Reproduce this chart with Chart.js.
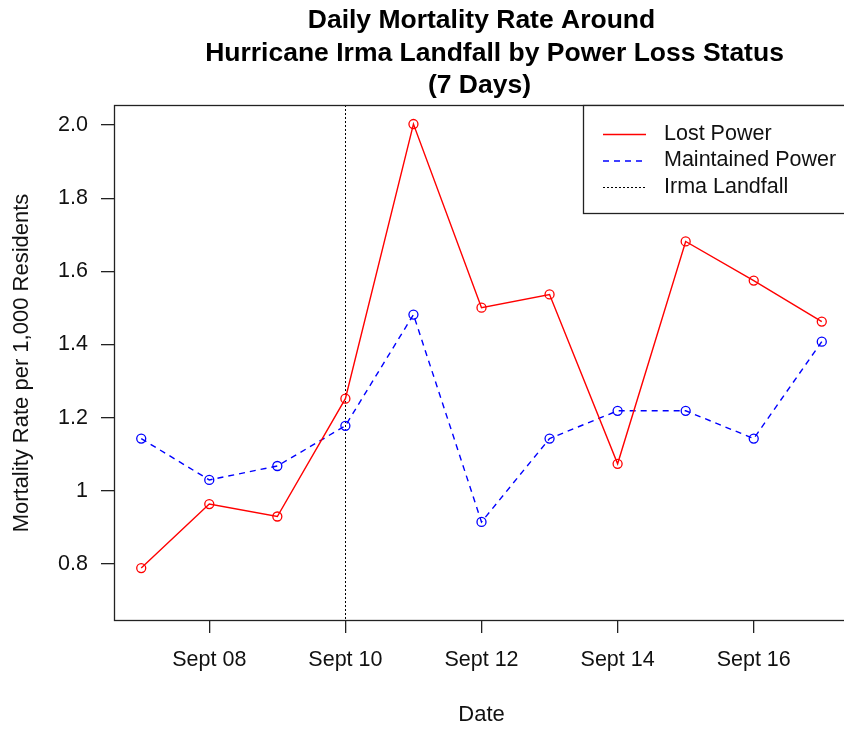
<!DOCTYPE html>
<html>
<head>
<meta charset="utf-8">
<script src="https://cdn.jsdelivr.net/npm/chart.js@4.4.0/dist/chart.umd.min.js"></script>
<style>
html, body { margin: 0; padding: 0; background: #fff; overflow: hidden; }
canvas { display: block; }
</style>
</head>
<body>
<canvas id="chart" width="870" height="732"></canvas>
<script>
// data
const days = [7, 8, 9, 10, 11, 12, 13, 14, 15, 16, 17];
const lostPower = [0.789, 0.964, 0.930, 1.252, 2.003, 1.501, 1.537, 1.074, 1.682, 1.575, 1.463];
const maintainedPower = [1.143, 1.030, 1.068, 1.178, 1.482, 0.915, 1.143, 1.219, 1.219, 1.143, 1.408];
const dateTicks = [8, 10, 12, 14, 16];
const dateLabels = ['Sept 08', 'Sept 10', 'Sept 12', 'Sept 14', 'Sept 16'];
const rateTicks = [0.8, 1, 1.2, 1.4, 1.6, 1.8, 2.0];
const rateLabels = ['0.8', '1', '1.2', '1.4', '1.6', '1.8', '2.0'];
const landfallDay = 10;
const titleLines = ['Daily Mortality Rate Around', 'Hurricane Irma Landfall by Power Loss Status', '(7 Days)'];

const FONT = '"Liberation Sans", Arial, sans-serif';

function pts(ys) {
  return ys.map((y, i) => ({ x: days[i], y: y }));
}

// R style extras: box, title, axis titles, landfall line, legend
const rPlot = {
  id: 'rPlot',
  beforeDatasetsDraw(chart) {
    const ctx = chart.ctx, a = chart.chartArea, xs = chart.scales.x;
    const lx = Math.round(xs.getPixelForValue(landfallDay)) + 0.5;
    ctx.save();
    ctx.strokeStyle = '#000';
    ctx.lineWidth = 1;
    ctx.setLineDash([2, 2]);
    ctx.beginPath();
    ctx.moveTo(lx, a.top);
    ctx.lineTo(lx, a.bottom);
    ctx.stroke();
    ctx.restore();
  },
  afterDraw(chart) {
    const ctx = chart.ctx, a = chart.chartArea;
    ctx.save();
    // box
    ctx.strokeStyle = '#222';
    ctx.lineWidth = 1.3;
    ctx.strokeRect(Math.round(a.left) + 0.5, Math.round(a.top) + 0.5, a.right - a.left, a.bottom - a.top);

    // title (second line sits a little right in the original)
    ctx.fillStyle = '#000';
    ctx.font = 'bold 26.5px ' + FONT;
    ctx.textAlign = 'center';
    ctx.textBaseline = 'middle';
    const cx = (a.left + a.right) / 2;
    const shift = [0, 13, -2];
    titleLines.forEach((t, i) => ctx.fillText(t, cx + shift[i], 21 + i * 32.5));

    // axis titles
    ctx.fillStyle = '#111';
    ctx.font = '22px ' + FONT;
    ctx.fillText('Date', cx, 715);
    ctx.save();
    ctx.translate(22, 363);
    ctx.rotate(-Math.PI / 2);
    ctx.fillText('Mortality Rate per 1,000 Residents', 0, 0);
    ctx.restore();

    // legend
    const bx = 583.5, by = Math.round(a.top) + 0.5;
    ctx.fillStyle = '#fff';
    ctx.fillRect(bx, by, a.right - bx, 108);
    ctx.strokeStyle = '#222';
    ctx.lineWidth = 1.3;
    ctx.strokeRect(bx, by, a.right - bx, 108);
    const items = [
      { text: 'Lost Power', color: '#ff0000', dash: [] },
      { text: 'Maintained Power', color: '#0000ff', dash: [6, 5] },
      { text: 'Irma Landfall', color: '#000', dash: [2, 2] }
    ];
    ctx.font = '21.5px ' + FONT;
    ctx.textAlign = 'left';
    items.forEach((it, i) => {
      const y = 134 + i * 26.5;
      ctx.strokeStyle = it.color;
      ctx.lineWidth = it.color === '#000' ? 1 : 1.4;
      ctx.setLineDash(it.dash);
      ctx.beginPath();
      ctx.moveTo(603, y + 0.5);
      ctx.lineTo(646, y + 0.5);
      ctx.stroke();
      ctx.setLineDash([]);
      ctx.fillStyle = '#111';
      ctx.fillText(it.text, 664, y);
    });
    ctx.restore();
  }
};

const config = {
  type: 'line',
  data: {
    datasets: [
      {
        label: 'Lost Power',
        data: pts(lostPower),
        borderColor: '#ff0000',
        borderWidth: 1.4,
        pointStyle: 'circle',
        pointRadius: 4.5,
        pointBorderWidth: 1.3,
        pointBackgroundColor: 'rgba(0,0,0,0)',
        pointBorderColor: '#ff0000',
        fill: false,
        tension: 0
      },
      {
        label: 'Maintained Power',
        data: pts(maintainedPower),
        borderColor: '#0000ff',
        borderWidth: 1.4,
        borderDash: [6, 5],
        pointStyle: 'circle',
        pointRadius: 4.5,
        pointBorderWidth: 1.3,
        pointBackgroundColor: 'rgba(0,0,0,0)',
        pointBorderColor: '#0000ff',
        fill: false,
        tension: 0
      }
    ]
  },
  options: {
    responsive: false,
    animation: false,
    layout: { padding: { left: 0, top: 105, right: 21, bottom: 0 } },
    plugins: {
      legend: { display: false },
      title: { display: false },
      tooltip: { enabled: false }
    },
    scales: {
      x: {
        type: 'linear',
        min: 6.6,
        max: 17.4,
        afterFit(s) { s.height = 112; },
        afterBuildTicks(s) { s.ticks = dateTicks.map(v => ({ value: v })); },
        ticks: {
          autoSkip: false,
          maxRotation: 0,
          padding: 14,
          color: '#111',
          font: { family: FONT, size: 21.5 },
          callback: (v) => dateLabels[dateTicks.indexOf(v)]
        },
        grid: { drawOnChartArea: false, drawTicks: true, tickLength: 13, color: '#222', lineWidth: 1.3 },
        border: { display: false }
      },
      y: {
        type: 'linear',
        min: 0.647,
        max: 2.055,
        afterFit(s) { s.width = 114; },
        afterBuildTicks(s) { s.ticks = rateTicks.map(v => ({ value: v })); },
        ticks: {
          autoSkip: false,
          padding: 13,
          color: '#111',
          font: { family: FONT, size: 21.5 },
          callback: (v) => rateLabels[rateTicks.indexOf(v)]
        },
        grid: { drawOnChartArea: false, drawTicks: true, tickLength: 13, color: '#222', lineWidth: 1.3 },
        border: { display: false }
      }
    }
  },
  plugins: [rPlot]
};

new Chart(document.getElementById('chart'), config);
</script>
</body>
</html>
